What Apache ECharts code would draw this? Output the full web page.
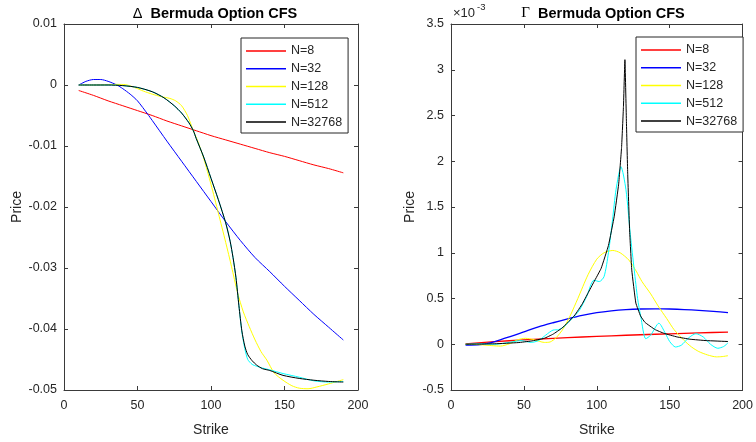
<!DOCTYPE html>
<html>
<head>
<meta charset="utf-8">
<script src="https://cdn.jsdelivr.net/npm/echarts@6/dist/echarts.min.js"></script>
<style>html,body{margin:0;padding:0;background:#fff}#c{width:756px;height:442px}</style>
</head>
<body>
<div id="c"></div>
<script>
// ---------- Data: Delta panel ----------
const deltaN8X = [10,20,30,40,50,60,70,80,90,100,110,120,130,140,150,160,170,180,190];
const deltaN8Y = [-0.0009,-0.0017,-0.0026,-0.0034,-0.0042,-0.0050,-0.0059,-0.0067,-0.0075,-0.0083,-0.0090,-0.0097,-0.0104,-0.0111,-0.0117,-0.0124,-0.0131,-0.0137,-0.0144];

const deltaN32X = [10,15,20,25,30,36,40,45,50,57,60,70,80,90,100,110,120,130,140,150,160,170,180,190];
const deltaN32Y = [0,0.0006,0.0009,0.0009,0.0006,0,-0.0006,-0.0015,-0.0026,-0.0048,-0.0058,-0.0092,-0.0125,-0.0158,-0.0191,-0.0224,-0.0255,-0.0283,-0.0306,-0.0330,-0.0353,-0.0376,-0.0397,-0.0418];

const deltaN128X = [10,20,30,36,42,48,54,60,66,72,76,80,84,88,91,95,100,105,110,114,118,122,126,130,134,138,143,149,155,160,166,172,180,190];
const deltaN128Y = [0,0,0.00005,0.0001,0.00005,-0.0004,-0.0010,-0.0015,-0.0019,-0.0022,-0.0026,-0.0034,-0.0050,-0.0075,-0.0092,-0.0120,-0.0163,-0.0210,-0.0258,-0.0298,-0.0340,-0.0372,-0.0396,-0.0418,-0.0437,-0.0451,-0.0472,-0.0484,-0.0493,-0.0497,-0.0498,-0.0495,-0.0490,-0.0483];

const deltaN512X = [10,20,30,40,50,60,68,75,80,85,88,90,95,100,105,110,113,115,117,119,121,123,125,128,131,135,140,149,160,170,180,190];
const deltaN512Y = [0,0,0,-0.0001,-0.0004,-0.0011,-0.0021,-0.0034,-0.0046,-0.0062,-0.0075,-0.0088,-0.0118,-0.0153,-0.0188,-0.0226,-0.0256,-0.0283,-0.0316,-0.0362,-0.0405,-0.0432,-0.0450,-0.0458,-0.0461,-0.0464,-0.0467,-0.0473,-0.0479,-0.0485,-0.0487,-0.0486];

const deltaN32768X = [10,20,30,40,50,60,68,75,80,85,88,90,95,100,105,110,113,115,117,119,121,123,125,128,131,135,140,149,160,170,180,190];
const deltaN32768Y = [0,0,0,-0.0001,-0.0004,-0.0011,-0.0021,-0.0034,-0.0046,-0.0062,-0.0075,-0.0088,-0.0118,-0.0153,-0.0188,-0.0226,-0.0256,-0.0283,-0.0316,-0.0362,-0.0403,-0.0428,-0.0442,-0.0452,-0.0459,-0.0465,-0.0468,-0.0476,-0.0481,-0.0484,-0.0486,-0.0487];

// ---------- Data: Gamma panel (values in units of 1e-3) ----------
const gammaN8X = [10,30,50,70,90,110,130,150,170,190];
const gammaN8Y = [0.005,0.028,0.048,0.065,0.079,0.092,0.104,0.114,0.124,0.133];

const gammaN32X = [10,20,30,40,50,60,70,80,90,100,110,120,130,140,150,160,170,180,190];
const gammaN32Y = [-0.01,-0.005,0.03,0.08,0.135,0.19,0.235,0.277,0.315,0.345,0.365,0.378,0.385,0.387,0.385,0.379,0.37,0.359,0.345];

const gammaN128X = [10,20,28,34,40,46,51,57,64,68,72,77,82,87,94,100,105,111,116,122,127,131,137,142,148,153,160,165,170,176,182,186,190];
const gammaN128Y = [0,-0.005,-0.015,-0.02,0.005,0.05,0.065,0.05,0.02,0.025,0.07,0.17,0.32,0.5,0.76,0.93,1.0,1.025,1.0,0.92,0.80,0.685,0.55,0.42,0.28,0.16,0.04,-0.03,-0.08,-0.117,-0.138,-0.135,-0.125];

const gammaN512X = [10,20,30,40,48,55,60,65,70,74,78,83,88,93,98,101.7,105,108,110.8,113.2,116.6,120,123,125.7,128,130.2,133.6,137,142.6,147,150,154,158,163,168,173,178,183,187,190];
const gammaN512Y = [0,0.005,0,0.02,0.04,0.02,0.04,0.10,0.155,0.16,0.2,0.28,0.37,0.52,0.70,0.685,0.74,1.0,1.36,1.69,1.94,1.69,1.2,0.81,0.5,0.30,0.06,0.1,0.23,0.12,0.03,-0.03,-0.01,0.07,0.115,0.08,0.0,-0.044,-0.025,0.015];

const gammaN32768X = [10,30,46,55,64,70,76,80,85,90,94,98,103,108,112,115,117,118.3,119.3,120.3,121.2,122.5,124,126.8,130,133,140,146,155,164,175,190];
const gammaN32768Y = [0,0.005,0.018,0.035,0.065,0.11,0.175,0.235,0.32,0.44,0.56,0.68,0.83,1.08,1.40,1.75,2.15,2.6,3.11,2.45,1.87,1.25,0.81,0.45,0.31,0.24,0.16,0.12,0.08,0.055,0.04,0.03];

const seriesNames = ['N=8','N=32','N=128','N=512','N=32768'];
const seriesColors = ['#ff0000','#0000ff','#ffff00','#00ffff','#000000'];
const xTicks = {min:0, max:200, interval:50};
const deltaTicks = {min:-0.05, max:0.01, interval:0.01};
const gammaTicks = {min:-0.5, max:3.5, interval:0.5};

const zip = (xs, ys) => xs.map((x,i)=>[x, ys[i]]);
const deltaSets = [[deltaN8X,deltaN8Y],[deltaN32X,deltaN32Y],[deltaN128X,deltaN128Y],[deltaN512X,deltaN512Y],[deltaN32768X,deltaN32768Y]];
const gammaSets = [[gammaN8X,gammaN8Y],[gammaN32X,gammaN32Y],[gammaN128X,gammaN128Y],[gammaN512X,gammaN512Y],[gammaN32768X,gammaN32768Y]];

const FONT = 'Liberation Sans, Arial, Helvetica, sans-serif';
const TXT = '#262626';
const AX = '#3a3a3a';

function xAx(gridIndex, pos, labels){
  return {type:'value', gridIndex, position:pos, min:xTicks.min, max:xTicks.max, interval:xTicks.interval,
    axisLine:{show:true, onZero:false, lineStyle:{color:AX, width:1}},
    axisTick:{show:true, inside:true, length:4, lineStyle:{color:AX}},
    axisLabel:{show:labels, color:TXT, fontSize:12.5, fontFamily:FONT, margin:9},
    splitLine:{show:false},
    name: labels ? 'Strike' : '', nameLocation:'middle', nameGap:33,
    nameTextStyle:{color:TXT, fontSize:14, fontFamily:FONT}};
}
function yAx(gridIndex, pos, t, labels, fmt, gap){
  return {type:'value', gridIndex, position:pos, min:t.min, max:t.max, interval:t.interval,
    axisLine:{show:true, onZero:false, lineStyle:{color:AX, width:1}},
    axisTick:{show:true, inside:true, length:4, lineStyle:{color:AX}},
    axisLabel:{show:labels, color:TXT, fontSize:12.5, fontFamily:FONT, margin:7, formatter:fmt},
    splitLine:{show:false},
    name: labels ? 'Price' : '', nameLocation:'middle', nameGap:gap, nameRotate:90,
    nameTextStyle:{color:TXT, fontSize:14, fontFamily:FONT}};
}
const fmtNum = v => String(Number(v.toFixed(4)));

const series = [];
deltaSets.forEach((s,i)=>{
  series.push({name:seriesNames[i], type:'line', xAxisIndex:0, yAxisIndex:0, data:zip(s[0],s[1]),
    showSymbol:false, smooth:0.25, lineStyle:{color:seriesColors[i], width:1}, itemStyle:{color:seriesColors[i]}, z:2+i});
});
gammaSets.forEach((s,i)=>{
  series.push({name:seriesNames[i], type:'line', xAxisIndex:2, yAxisIndex:2, data:zip(s[0],s[1]),
    showSymbol:false, smooth: i===4 ? 0.1 : 0.25, lineStyle:{color:seriesColors[i], width:i<2?1.3:1}, itemStyle:{color:seriesColors[i]}, z:2+i});
});

function legend(left, top){
  return {show:true, orient:'vertical', left, top, data:seriesNames, icon:'rect', itemWidth:40, itemHeight:1.5,
    itemGap:0, padding:[4,6,2,5], backgroundColor:'#fff', borderColor:'#262626', borderWidth:1,
    textStyle:{color:TXT, fontSize:12.5, fontFamily:FONT, lineHeight:17.8}, selectedMode:false};
}

const chart = echarts.init(document.getElementById('c'), null, {renderer:'canvas'});
chart.setOption({
  animation:false,
  backgroundColor:'#fff',
  title:[
    {text:'{g|Δ}  Bermuda Option CFS', left:210, top:1, textAlign:'center',
      textStyle:{color:'#000', fontSize:14.5, fontWeight:'bold', fontFamily:FONT, rich:{g:{fontSize:14.5, fontWeight:'normal', fontFamily:FONT, color:'#000'}}}},
    {text:'{g|Γ}  Bermuda Option CFS', left:598, top:1, textAlign:'center',
      textStyle:{color:'#000', fontSize:14.5, fontWeight:'bold', fontFamily:FONT, rich:{g:{fontSize:15, fontWeight:'normal', fontFamily:'Liberation Serif, DejaVu Serif, serif', color:'#000'}}}}
  ],
  grid:[
    {left:64, top:24, width:294, height:366},
    {left:451, top:24, width:295, height:366}
  ],
  xAxis:[xAx(0,'bottom',true), xAx(0,'top',false), xAx(1,'bottom',true), xAx(1,'top',false)],
  yAxis:[yAx(0,'left',deltaTicks,true,fmtNum,40), yAx(0,'right',deltaTicks,false,fmtNum,0),
         yAx(1,'left',gammaTicks,true,fmtNum,34), yAx(1,'right',gammaTicks,false,fmtNum,0)],
  legend:[legend(241,38), legend(636,37)],
  graphic:[
    {type:'text', left:453, top:7, style:{text:'×10', fill:TXT, font:'13px '+FONT}},
    {type:'text', left:477, top:2, style:{text:'-3', fill:TXT, font:'9.5px '+FONT}}
  ],
  series
});
</script>
</body>
</html>
